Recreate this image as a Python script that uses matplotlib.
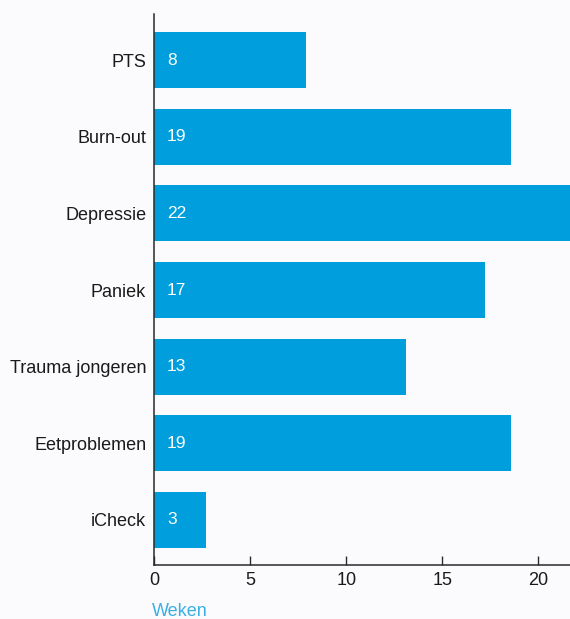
import matplotlib.pyplot as plt

# Aantal weken per behandeling
categories = ["PTS", "Burn-out", "Depressie", "Paniek", "Trauma jongeren", "Eetproblemen", "iCheck"]
weeks = [7.9, 18.6, 22.3, 17.2, 13.1, 18.6, 2.7]
x_ticks = [0, 5, 10, 15, 20]

BLUE = "#009edd"
BG = "#fbfbfd"

plt.rcParams["font.family"] = ["Liberation Sans", "DejaVu Sans"]

fig = plt.figure(figsize=(5.7, 6.19), dpi=100, facecolor=BG)
ax = fig.add_axes([0.271, 0.0872, 0.729, 0.8898], facecolor=BG)

pos = list(range(len(categories)))[::-1]
ax.barh(pos, weeks, height=0.73, color=BLUE, zorder=2)

for p, w in zip(pos, weeks):
    ax.annotate(f"{w:.0f}", xy=(0, p), xytext=(9, 0), textcoords="offset points",
                ha="left", va="center", color="white", fontsize=12.5)

ax.set_yticks(pos)
ax.set_yticklabels(categories, fontsize=13, color="#1a1a1a")
ax.set_xticks(x_ticks)
ax.set_xticklabels([str(t) for t in x_ticks], fontsize=13, color="#1a1a1a")

ax.set_xlim(0, 21.65)
ax.set_ylim(-0.59, 6.6)

for side in ("top", "right"):
    ax.spines[side].set_visible(False)
for side in ("left", "bottom"):
    ax.spines[side].set_color("#2a2a2a")
    ax.spines[side].set_linewidth(1.1)
    ax.spines[side].set_zorder(3)

ax.tick_params(axis="y", length=0, pad=6)
ax.tick_params(axis="x", direction="in", length=6.5, width=1, color="#2a2a2a", pad=5)

fig.text(152 / 570, 1 - 611 / 619, "Weken", color="#3aafe6", fontsize=13,
         ha="left", va="center")

fig.savefig("out.png", dpi=100, facecolor=BG)
